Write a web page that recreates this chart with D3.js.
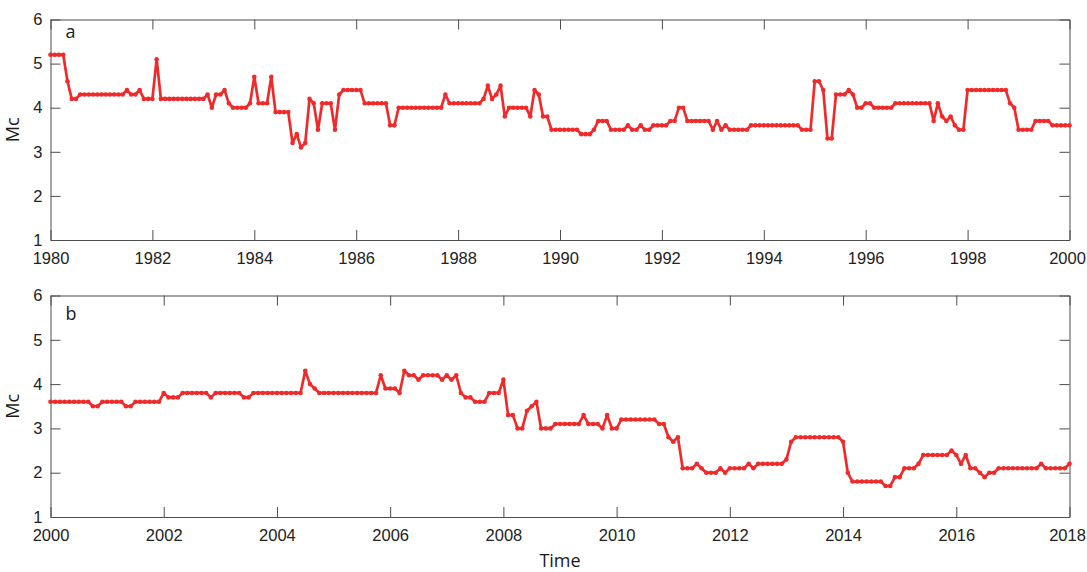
<!DOCTYPE html>
<html>
<head>
<meta charset="utf-8">
<script src="https://cdn.jsdelivr.net/npm/d3@7/dist/d3.min.js"></script>
<style>
  html, body { margin: 0; padding: 0; background: #fff; }
  svg { display: block; font-family: "Open Sans", sans-serif; }
  .axis text { font-size: 16.5px; fill: #222; }
  .axis path, .axis line { stroke: #4d4d4d; stroke-width: 1; }
</style>
</head>
<body>
<svg id="chart" width="1087" height="572"></svg>
<script>
// Monthly Mc values, one row per year (Jan..Dec)
const mcA = [
  5.2,5.2,5.2,5.2,4.6,4.2,4.2,4.3,4.3,4.3,4.3,4.3, // 1980
  4.3,4.3,4.3,4.3,4.3,4.3,4.4,4.3,4.3,4.4,4.2,4.2, // 1981
  4.2,5.1,4.2,4.2,4.2,4.2,4.2,4.2,4.2,4.2,4.2,4.2, // 1982
  4.2,4.3,4.0,4.3,4.3,4.4,4.1,4.0,4.0,4.0,4.0,4.1, // 1983
  4.7,4.1,4.1,4.1,4.7,3.9,3.9,3.9,3.9,3.2,3.4,3.1, // 1984
  3.2,4.2,4.1,3.5,4.1,4.1,4.1,3.5,4.3,4.4,4.4,4.4, // 1985
  4.4,4.4,4.1,4.1,4.1,4.1,4.1,4.1,3.6,3.6,4.0,4.0, // 1986
  4.0,4.0,4.0,4.0,4.0,4.0,4.0,4.0,4.0,4.3,4.1,4.1, // 1987
  4.1,4.1,4.1,4.1,4.1,4.1,4.2,4.5,4.2,4.3,4.5,3.8, // 1988
  4.0,4.0,4.0,4.0,4.0,3.8,4.4,4.3,3.8,3.8,3.5,3.5, // 1989
  3.5,3.5,3.5,3.5,3.5,3.4,3.4,3.4,3.5,3.7,3.7,3.7, // 1990
  3.5,3.5,3.5,3.5,3.6,3.5,3.5,3.6,3.5,3.5,3.6,3.6, // 1991
  3.6,3.6,3.7,3.7,4.0,4.0,3.7,3.7,3.7,3.7,3.7,3.7, // 1992
  3.5,3.7,3.5,3.6,3.5,3.5,3.5,3.5,3.5,3.6,3.6,3.6, // 1993
  3.6,3.6,3.6,3.6,3.6,3.6,3.6,3.6,3.6,3.5,3.5,3.5, // 1994
  4.6,4.6,4.4,3.3,3.3,4.3,4.3,4.3,4.4,4.3,4.0,4.0, // 1995
  4.1,4.1,4.0,4.0,4.0,4.0,4.0,4.1,4.1,4.1,4.1,4.1, // 1996
  4.1,4.1,4.1,4.1,3.7,4.1,3.8,3.7,3.8,3.6,3.5,3.5, // 1997
  4.4,4.4,4.4,4.4,4.4,4.4,4.4,4.4,4.4,4.4,4.1,4.0, // 1998
  3.5,3.5,3.5,3.5,3.7,3.7,3.7,3.7,3.6,3.6,3.6,3.6, // 1999
  3.6                                              // 2000
];

const mcB = [
  3.6,3.6,3.6,3.6,3.6,3.6,3.6,3.6,3.6,3.5,3.5,3.6, // 2000
  3.6,3.6,3.6,3.6,3.5,3.5,3.6,3.6,3.6,3.6,3.6,3.6, // 2001
  3.8,3.7,3.7,3.7,3.8,3.8,3.8,3.8,3.8,3.8,3.7,3.8, // 2002
  3.8,3.8,3.8,3.8,3.8,3.7,3.7,3.8,3.8,3.8,3.8,3.8, // 2003
  3.8,3.8,3.8,3.8,3.8,3.8,4.3,4.0,3.9,3.8,3.8,3.8, // 2004
  3.8,3.8,3.8,3.8,3.8,3.8,3.8,3.8,3.8,3.8,4.2,3.9, // 2005
  3.9,3.9,3.8,4.3,4.2,4.2,4.1,4.2,4.2,4.2,4.2,4.1, // 2006
  4.2,4.1,4.2,3.8,3.7,3.7,3.6,3.6,3.6,3.8,3.8,3.8, // 2007
  4.1,3.3,3.3,3.0,3.0,3.4,3.5,3.6,3.0,3.0,3.0,3.1, // 2008
  3.1,3.1,3.1,3.1,3.1,3.3,3.1,3.1,3.1,3.0,3.3,3.0, // 2009
  3.0,3.2,3.2,3.2,3.2,3.2,3.2,3.2,3.2,3.1,3.1,2.8, // 2010
  2.7,2.8,2.1,2.1,2.1,2.2,2.1,2.0,2.0,2.0,2.1,2.0, // 2011
  2.1,2.1,2.1,2.1,2.2,2.1,2.2,2.2,2.2,2.2,2.2,2.2, // 2012
  2.3,2.7,2.8,2.8,2.8,2.8,2.8,2.8,2.8,2.8,2.8,2.8, // 2013
  2.7,2.0,1.8,1.8,1.8,1.8,1.8,1.8,1.8,1.7,1.7,1.9, // 2014
  1.9,2.1,2.1,2.1,2.2,2.4,2.4,2.4,2.4,2.4,2.4,2.5, // 2015
  2.4,2.2,2.4,2.1,2.1,2.0,1.9,2.0,2.0,2.1,2.1,2.1, // 2016
  2.1,2.1,2.1,2.1,2.1,2.1,2.2,2.1,2.1,2.1,2.1,2.1, // 2017
  2.2                                              // 2018
];

const yTicks = [1, 2, 3, 4, 5, 6];
const xTicksA = [1980, 1982, 1984, 1986, 1988, 1990, 1992, 1994, 1996, 1998, 2000];
const xTicksB = [2000, 2002, 2004, 2006, 2008, 2010, 2012, 2014, 2016, 2018];

const RED = "#f02a2a";
const TICK = 10;

const svg = d3.select("#chart");

function drawPanel(opts) {
  const { values, start, end, ticks, label, top, left, width, height } = opts;
  const pts = values.map((v, i) => ({ t: start + i / 12, v }));

  const x = d3.scaleLinear([start, end], [0, width]);
  const y = d3.scaleLinear([1, 6], [height, 0]);

  const g = svg.append("g").attr("transform", `translate(${left},${top})`);

  // box axes, ticks pointing inward
  const xAxis = g.append("g").attr("class", "axis")
    .attr("transform", `translate(0,${height})`)
    .call(d3.axisBottom(x).tickValues(ticks).tickFormat(d3.format("d"))
      .tickSizeInner(-TICK).tickSizeOuter(0).tickPadding(12));
  // last label sits on the figure edge, nudge it in a little
  xAxis.selectAll(".tick text").filter(d => d === end).attr("dx", -2.5);

  g.append("g").attr("class", "axis")
    .call(d3.axisTop(x).tickValues(ticks).tickFormat("")
      .tickSizeInner(-TICK).tickSizeOuter(0));
  g.append("g").attr("class", "axis")
    .call(d3.axisLeft(y).tickValues(yTicks).tickFormat(d3.format("d"))
      .tickSizeInner(-TICK).tickSizeOuter(0).tickPadding(8));
  g.append("g").attr("class", "axis")
    .attr("transform", `translate(${width},0)`)
    .call(d3.axisRight(y).tickValues(yTicks).tickFormat("")
      .tickSizeInner(-TICK).tickSizeOuter(0));

  const line = d3.line().x(d => x(d.t)).y(d => y(d.v));
  g.append("path")
    .datum(pts)
    .attr("d", line)
    .attr("fill", "none")
    .attr("stroke", RED)
    .attr("stroke-width", 2.7)
    .attr("stroke-linejoin", "round");

  g.append("g").selectAll("circle")
    .data(pts)
    .join("circle")
    .attr("cx", d => x(d.t))
    .attr("cy", d => y(d.v))
    .attr("r", 2.3)
    .attr("fill", RED);

  g.append("text")
    .attr("x", 15).attr("y", opts.labelY)
    .attr("font-size", 18).attr("fill", "#1a1a1a")
    .text(label);

  g.append("text")
    .attr("transform", `translate(-32,${height / 2}) rotate(-90)`)
    .attr("text-anchor", "middle")
    .attr("font-size", 18).attr("fill", "#1a1a1a")
    .text("Mc");
}

drawPanel({ values: mcA, start: 1980, end: 2000, ticks: xTicksA, label: "a",
  top: 19.5, left: 50.5, width: 1019, height: 220.5, labelY: 18.5 });
drawPanel({ values: mcB, start: 2000, end: 2018, ticks: xTicksB, label: "b",
  top: 295.5, left: 50.5, width: 1019, height: 221.5, labelY: 24.5 });

svg.append("text")
  .attr("x", 50.5 + 1019 / 2).attr("y", 567)
  .attr("text-anchor", "middle")
  .attr("font-size", 18).attr("fill", "#1a1a1a")
  .text("Time");
</script>
</body>
</html>
